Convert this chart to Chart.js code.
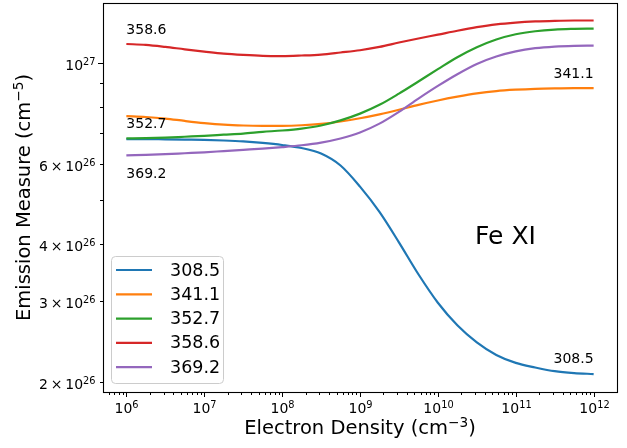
<!DOCTYPE html>
<html>
<head>
<meta charset="utf-8">
<script src="https://cdn.jsdelivr.net/npm/chart.js@4.4.1/dist/chart.umd.min.js"></script>
<style>
  html, body { margin: 0; padding: 0; background: #fff; }
</style>
</head>
<body>
<canvas id="myChart" width="627" height="448"></canvas>
<script>
// electron density, quarter-decade steps (cm^-3)
const density = [
  1e6, 1.778e6, 3.162e6, 5.623e6, 1e7, 1.778e7, 3.162e7, 5.623e7,
  1e8, 1.778e8, 3.162e8, 5.623e8, 1e9, 1.778e9, 3.162e9, 5.623e9,
  1e10, 1.778e10, 3.162e10, 5.623e10, 1e11, 1.778e11, 3.162e11, 5.623e11, 1e12
];

const lineNames = ['308.5', '341.1', '352.7', '358.6', '369.2'];
// emission measure (cm^-5)
const em3085 = [6.80e26, 6.80e26, 6.79e26, 6.78e26, 6.77e26, 6.75e26, 6.72e26, 6.67e26, 6.60e26, 6.50e26, 6.32e26, 5.95e26, 5.35e26,
  4.71e26, 4.04e26, 3.44e26, 2.98e26, 2.66e26, 2.44e26, 2.29e26, 2.20e26, 2.15e26, 2.11e26, 2.09e26, 2.08e26];
const em3411 = [7.63e26, 7.60e26, 7.54e26, 7.45e26, 7.37e26, 7.31e26, 7.28e26, 7.27e26, 7.27e26, 7.29e26, 7.34e26, 7.43e26, 7.55e26,
  7.70e26, 7.88e26, 8.08e26, 8.26e26, 8.42e26, 8.56e26, 8.66e26, 8.72e26, 8.76e26, 8.78e26, 8.79e26, 8.79e26];
const em3527 = [6.82e26, 6.83e26, 6.85e26, 6.88e26, 6.91e26, 6.95e26, 6.99e26, 7.05e26, 7.10e26, 7.17e26, 7.28e26, 7.47e26, 7.73e26,
  8.08e26, 8.55e26, 9.09e26, 9.67e26, 10.27e26, 10.80e26, 11.23e26, 11.53e26, 11.71e26, 11.81e26, 11.85e26, 11.87e26];
const em3586 = [10.98e26, 10.93e26, 10.82e26, 10.69e26, 10.57e26, 10.46e26, 10.39e26, 10.34e26, 10.33e26, 10.36e26, 10.41e26, 10.52e26, 10.64e26,
  10.82e26, 11.06e26, 11.29e26, 11.51e26, 11.74e26, 11.95e26, 12.12e26, 12.23e26, 12.30e26, 12.34e26, 12.36e26, 12.36e26];
const em3692 = [6.26e26, 6.28e26, 6.30e26, 6.33e26, 6.36e26, 6.40e26, 6.44e26, 6.48e26, 6.53e26, 6.59e26, 6.68e26, 6.82e26, 7.03e26,
  7.35e26, 7.80e26, 8.34e26, 8.89e26, 9.43e26, 9.93e26, 10.31e26, 10.58e26, 10.75e26, 10.84e26, 10.88e26, 10.89e26];

const xTickValues = [1e6, 1e7, 1e8, 1e9, 1e10, 1e11, 1e12];
const xTickLabels = ['10⁶', '10⁷', '10⁸', '10⁹', '10¹⁰', '10¹¹', '10¹²'];
const yTickValues = [2e26, 3e26, 4e26, 6e26, 1e27];
const yTickLabels = ['2\u2009×\u200910²⁶', '3\u2009×\u200910²⁶', '4\u2009×\u200910²⁶', '6\u2009×\u200910²⁶', '10²⁷'];

const colors = ['#1f77b4', '#ff7f0e', '#2ca02c', '#d62728', '#9467bd'];
const allSeries = [em3085, em3411, em3527, em3586, em3692];
const FONT = '"DejaVu Sans", sans-serif';

// minor ticks like matplotlib's log locator
function logTicks(min, max) {
  const out = [];
  for (let e = Math.floor(Math.log10(min)); e <= Math.ceil(Math.log10(max)); e++) {
    for (let m = 1; m <= 9; m++) {
      const v = m * Math.pow(10, e);
      if (v >= min && v <= max) out.push(v);
    }
  }
  return out;
}

function noPad(s) {
  s.paddingTop = 0; s.paddingBottom = 0; s.paddingLeft = 0; s.paddingRight = 0;
}

// text with superscripts drawn smaller and raised, like mathtext
const SUP = '⁰¹²³⁴⁵⁶⁷⁸⁹⁻';
const SUPN = '0123456789−';
function runs(text) {
  const out = [];
  for (const ch of text) {
    const k = SUP.indexOf(ch);
    const sup = k >= 0;
    const c = sup ? SUPN[k] : ch;
    if (out.length && out[out.length - 1].sup === sup) out[out.length - 1].t += c;
    else out.push({ t: c, sup });
  }
  return out;
}
function drawRich(ctx, text, x, y, align, size) {
  // y is the middle of the normal-size capitals
  const rs = runs(text);
  const fontFor = r => (r.sup ? size * 0.7 : size) + 'px ' + FONT;
  let w = 0;
  rs.forEach(r => { ctx.font = fontFor(r); r.w = ctx.measureText(r.t).width; w += r.w; });
  let cx = align === 'right' ? x - w : align === 'center' ? x - w / 2 : x;
  ctx.textAlign = 'left';
  ctx.textBaseline = 'alphabetic';
  const base = y + size * 0.364;
  rs.forEach(r => {
    ctx.font = fontFor(r);
    ctx.fillText(r.t, cx, r.sup ? base - size * 0.36 : base);
    cx += r.w;
  });
}

// hand-drawn ticks, tick labels, titles, frame, line labels and the legend box
const decor = {
  id: 'decor',
  afterDraw(chart) {
    const ctx = chart.ctx;
    const a = chart.chartArea;
    const xs = chart.scales.x, ys = chart.scales.y;
    ctx.save();
    ctx.strokeStyle = '#000';
    ctx.fillStyle = '#000';
    ctx.lineWidth = 1;
    xs.ticks.forEach(t => {
      const px = Math.round(xs.getPixelForValue(t.value)) + 0.5;
      const i = xTickValues.indexOf(t.value);
      const len = i >= 0 ? 5 : 3;
      ctx.beginPath(); ctx.moveTo(px, a.bottom); ctx.lineTo(px, a.bottom + len); ctx.stroke();
      if (i >= 0) drawRich(ctx, xTickLabels[i], px, a.bottom + 15.7, 'center', 14);
    });
    ys.ticks.forEach(t => {
      const py = Math.round(ys.getPixelForValue(t.value)) + 0.5;
      const i = yTickValues.findIndex(v => Math.abs(v - t.value) / v < 1e-6);
      const len = t.value === 1e27 ? 5 : 3;
      ctx.beginPath(); ctx.moveTo(a.left, py); ctx.lineTo(a.left - len, py); ctx.stroke();
      if (i >= 0) drawRich(ctx, yTickLabels[i], a.left - 7.5, py + 1.3, 'right', 14);
    });
    ctx.lineWidth = 1.1;
    ctx.strokeRect(a.left + 0.5, a.top + 0.5, a.right - a.left, a.bottom - a.top);

    // axis titles
    drawRich(ctx, 'Electron Density (cm⁻³)', (a.left + a.right) / 2, 427, 'center', 19.5);
    ctx.save();
    ctx.translate(22.5, (a.top + a.bottom) / 2);
    ctx.rotate(-Math.PI / 2);
    drawRich(ctx, 'Emission Measure (cm⁻⁵)', 0, 0, 'center', 19.5);
    ctx.restore();

    // curve labels
    ctx.font = '14px ' + FONT;
    ctx.textBaseline = 'middle';
    const first = (s) => [xs.getPixelForValue(density[0]), ys.getPixelForValue(s[0])];
    const last = (s) => [xs.getPixelForValue(density[density.length - 1]), ys.getPixelForValue(s[s.length - 1])];
    ctx.textAlign = 'left';
    let p = first(em3586); ctx.fillText('358.6', p[0], p[1] - 14);
    p = first(em3527); ctx.fillText('352.7', p[0], p[1] - 14);
    p = first(em3692); ctx.fillText('369.2', p[0], p[1] + 19);
    ctx.textAlign = 'right';
    p = last(em3411); ctx.fillText('341.1', p[0], p[1] - 14);
    p = last(em3085); ctx.fillText('308.5', p[0], p[1] - 15);

    ctx.textAlign = 'left';
    ctx.textBaseline = 'alphabetic';
    ctx.font = '25px ' + FONT;
    ctx.fillText('Fe XI', xs.getPixelForValue(3e10), ys.getPixelForValue(4e26));

    // legend
    const lx = a.left + 8, ly = a.bottom - 136, lw = 112, lh = 127;
    ctx.beginPath();
    ctx.roundRect(lx + 0.5, ly + 0.5, lw, lh, 4);
    ctx.fillStyle = 'rgba(255,255,255,0.8)';
    ctx.fill();
    ctx.strokeStyle = '#cccccc';
    ctx.lineWidth = 1;
    ctx.stroke();
    ctx.font = '17.5px ' + FONT;
    ctx.textBaseline = 'middle';
    lineNames.forEach((name, i) => {
      const ry = ly + 14 + i * 24.3;
      ctx.strokeStyle = colors[i];
      ctx.lineWidth = 2.2;
      ctx.beginPath(); ctx.moveTo(lx + 5, ry); ctx.lineTo(lx + 41, ry); ctx.stroke();
      ctx.fillStyle = '#000';
      ctx.fillText(name, lx + 59, ry + 1);
    });
    ctx.restore();
  }
};

const ctx = document.getElementById('myChart').getContext('2d');
const myChart = new Chart(ctx, {
  type: 'line',
  data: {
    datasets: lineNames.map((name, i) => ({
      label: name,
      data: density.map((d, j) => ({ x: d, y: allSeries[i][j] })),
      borderColor: colors[i],
      borderWidth: 2.2,
      pointRadius: 0,
      cubicInterpolationMode: 'monotone',
      fill: false,
      order: 5 - i
    }))
  },
  options: {
    responsive: false,
    animation: false,
    events: [],
    layout: { padding: { top: 3, right: 10, left: 0, bottom: 0 } },
    plugins: { legend: { display: false }, tooltip: { enabled: false } },
    scales: {
      x: {
        type: 'logarithmic',
        min: Math.pow(10, 5.7),
        max: Math.pow(10, 12.3),
        afterBuildTicks: s => { s.ticks = logTicks(s.min, s.max).map(v => ({ value: v })); },
        afterFit: s => { s.height = 56; noPad(s); },
        grid: { display: false },
        border: { display: false },
        ticks: { display: false },
        title: { display: false }
      },
      y: {
        type: 'logarithmic',
        min: 1.90e26,
        max: 1.35e27,
        afterBuildTicks: s => { s.ticks = logTicks(s.min, s.max).map(v => ({ value: v })); },
        afterFit: s => { s.width = 103; noPad(s); },
        grid: { display: false },
        border: { display: false },
        ticks: { display: false },
        title: { display: false }
      }
    }
  },
  plugins: [decor]
});
</script>
</body>
</html>
